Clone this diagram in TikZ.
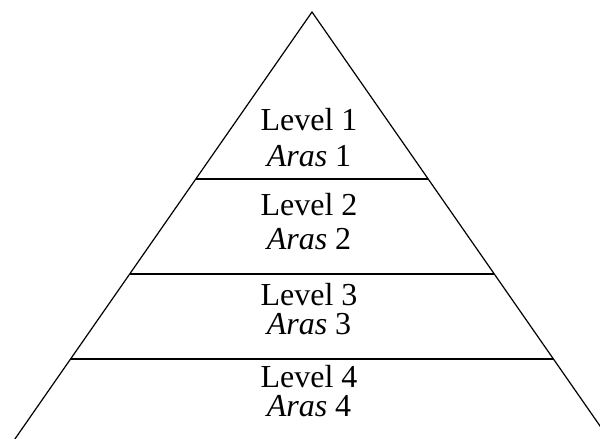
\documentclass[tikz,border=0pt]{standalone}
\usepackage{fontspec}
\setmainfont{Liberation Serif}
\usetikzlibrary{calc}

\begin{document}
\begin{tikzpicture}[
    x=1pt, y=1pt,
    edge/.style={draw, line width=1.2pt},
    label/.style={font=\fontsize{32}{36}\selectfont, anchor=base,
                  inner sep=0pt}
  ]

  % Frame
  \useasboundingbox (0,0) rectangle (600,439);
  \clip (0,0) rectangle (600,439);

  % Pyramid
  \coordinate (apex) at (312,427);
  \coordinate (bl) at (1,-20);
  \coordinate (br) at (623,-20);
  \draw[edge] (bl) -- (apex) -- (br);

  % Band dividers
  \draw[edge] ($(apex)!167/447!(bl)$) -- ($(apex)!167/447!(br)$);
  \draw[edge] ($(apex)!262/447!(bl)$) -- ($(apex)!262/447!(br)$);
  \draw[edge] ($(apex)!347/447!(bl)$) -- ($(apex)!347/447!(br)$);

  % Labels
  \node[label] (lvl1) at (309,308) {Level 1};
  \node[label] (aras1) at (309,272) {\textit{Aras} 1};
  \node[label] (lvl2) at (309,223) {Level 2};
  \node[label] (aras2) at (309,189) {\textit{Aras} 2};
  \node[label] (lvl3) at (309,133) {Level 3};
  \node[label] (aras3) at (309,104) {\textit{Aras} 3};
  \node[label] (lvl4) at (309,51) {Level 4};
  \node[label] (aras4) at (309,22) {\textit{Aras} 4};

\end{tikzpicture}
\end{document}
